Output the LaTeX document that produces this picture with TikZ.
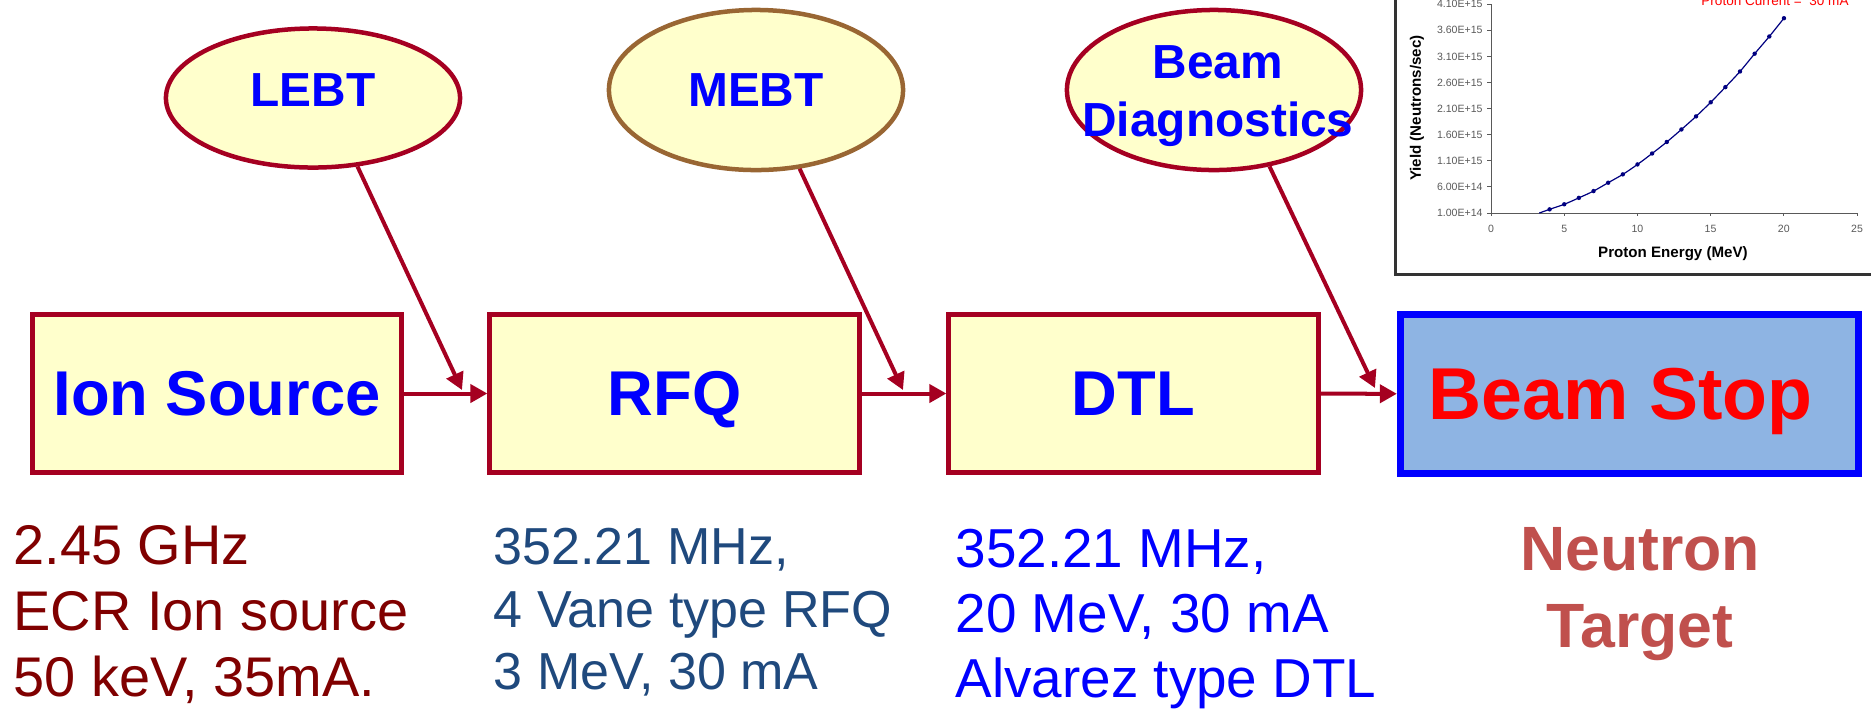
\documentclass[tikz,border=0pt]{standalone}
\usepackage{fontspec}
\setmainfont{Liberation Sans}
\usetikzlibrary{shapes.geometric,arrows.meta}

\definecolor{boxred}{HTML}{A50021}
\definecolor{boxfill}{HTML}{FFFFCC}
\definecolor{mebtbrown}{HTML}{996633}
\definecolor{stopfill}{HTML}{8EB4E3}
\definecolor{ionred}{HTML}{800000}
\definecolor{rfqblue}{HTML}{1F497D}
\definecolor{targetred}{HTML}{C0504D}
\definecolor{curveblue}{HTML}{000080}
\definecolor{framegray}{HTML}{333333}

\begin{document}
\begin{tikzpicture}[x=0.01cm,y=-0.01cm,
  stage/.style={draw=boxred,fill=boxfill,line width=0.05cm,minimum width=3.69cm,minimum height=1.58cm,
    inner sep=0pt,text depth=0pt,text=blue,font=\fontsize{18}{21}\selectfont\bfseries},
  optic/.style={ellipse,draw=boxred,fill=boxfill,line width=0.045cm,minimum width=2.94cm,minimum height=1.6cm,
    inner sep=0pt,text=blue,font=\fontsize{13.6}{16.5}\selectfont\bfseries,align=center},
  flow/.style={boxred,line width=0.04cm,-{Triangle[length=0.17cm,width=0.18cm]}},
  spec/.style={anchor=north west,inner sep=0pt,align=left},
  ticklab/.style={inner sep=0pt,font=\fontsize{3}{3.6}\selectfont},
  axistitle/.style={inner sep=0pt,font=\fontsize{4.3}{5}\selectfont\bfseries}]

\useasboundingbox (0,0) rectangle (1871,711);

% accelerator stages
\node[stage] (ion) at (217,393.5) {Ion Source};
\node[stage] (rfq) at (674.5,393.5) {RFQ};
\node[stage] (dtl) at (1133.5,393.5) {DTL};
\node[stage,draw=blue,fill=stopfill,line width=0.075cm,minimum width=4.575cm,minimum height=1.585cm] (stop) at (1629.5,394) {};
\node[inner sep=0pt,text depth=0pt,text=red,font=\fontsize{20.9}{24}\selectfont\bfseries,xshift=-0.09cm] (stoptext) at (stop) {Beam Stop};

\draw[flow] (ion) -- (rfq);
\draw[flow] (rfq) -- (dtl);
\draw[flow] (dtl) -- (stop);

% transport lines and diagnostics
\node[optic,minimum height=1.39cm,text depth=0.15cm] (lebt) at (313,98) {LEBT};
\node[optic,draw=mebtbrown] (mebt) at (756,90) {MEBT};
\node[optic] (diag) at (1214,90) {};
\node[optic,draw=none,fill=none,xshift=0.04cm,yshift=-0.06cm] (diagtext) at (diag) {Beam\\Diagnostics};

\coordinate (lebt tip) at (462,390);
\coordinate (mebt tip) at (903,390);
\coordinate (diag tip) at (1375,388);
\draw[flow] (lebt.-57) -- (lebt tip);
\draw[flow] (mebt.-61) -- (mebt tip);
\draw[flow] (diag.-54) -- (diag tip);

% parameters
\node[spec,text=ionred,font=\fontsize{15.9}{18.8}\selectfont] (ionspec) at (13,525)
  {2.45 GHz\\ECR Ion source\\50 keV, 35mA.};
\node[spec,text=rfqblue,font=\fontsize{14.8}{17.9}\selectfont] (rfqspec) at (493,527)
  {352.21 MHz,\\4 Vane type RFQ\\3 MeV, 30 mA};
\node[spec,text=blue,font=\fontsize{15.6}{18.6}\selectfont] (dtlspec) at (955,528)
  {352.21 MHz,\\20 MeV, 30 mA\\Alvarez type DTL};
\node[anchor=north,align=center,inner sep=0pt,text=targetred,font=\fontsize{17.8}{21.9}\selectfont\bfseries]
  (target) at (1640,527) {Neutron\\Target};

% yield plot
\begin{scope}
\clip (0,0) rectangle (1871,711);
\draw[framegray,line width=0.03cm] (1395,-10) rectangle (1890,274);
\draw[gray!70!black,line width=0.01cm] (1491,4) -- (1491,213) -- (1857,213);

% tick marks
\foreach \k/\lab in {0/1.00E+14,1/6.00E+14,2/1.10E+15,3/1.60E+15,4/2.10E+15,5/2.60E+15,6/3.10E+15,7/3.60E+15,8/4.10E+15}
  \draw[gray!70!black,line width=0.01cm] (1487,{213-26.1*\k}) node[ticklab,anchor=east,xshift=-0.04cm] {\lab} -- (1491,{213-26.1*\k});
\foreach \e in {0,5,...,25}
  \draw[gray!70!black,line width=0.01cm] ({1491+14.64*\e},213) -- ({1491+14.64*\e},216) node[ticklab,anchor=north,yshift=-0.09cm] {\e};

\node[axistitle,rotate=90] (ylab) at (1417,108) {Yield (Neutrons/sec)};
\node[axistitle] (xlab) at (1673,254) {Proton Energy (MeV)};
\node[anchor=base,inner sep=0pt,text=red,font=\fontsize{3.85}{4.5}\selectfont] (current) at (1775,5) {Proton Current =\ \ 30 mA};

\begin{scope}[shift={(1491,213)},x=0.1464cm,y=0.0522cm]
\draw[curveblue,line width=0.012cm] plot[smooth] coordinates {(3.3,0) (4,0.7) (5,1.67) (6,2.9) (7,4.2) (8,5.8) (9,7.4) (10,9.3) (11,11.4) (12,13.6) (13,16.0) (14,18.5) (15,21.2) (16,24.1) (17,27.1) (18,30.5) (19,33.8) (20,37.3)};
\foreach \e/\v in {4/0.7,5/1.67,6/2.9,7/4.2,8/5.8,9/7.4,10/9.3,11/11.4,12/13.6,13/16.0,14/18.5,15/21.2,16/24.1,17/27.1,18/30.5,19/33.8,20/37.3}
  \fill[curveblue] (\e,\v) circle (0.022cm);
\end{scope}
\end{scope}
\end{tikzpicture}
\end{document}
